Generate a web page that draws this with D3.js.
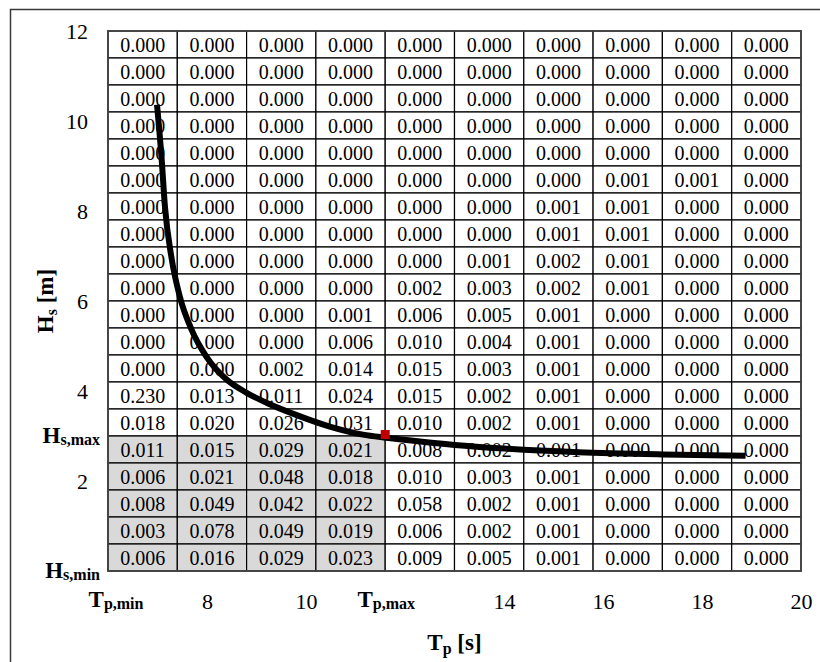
<!DOCTYPE html>
<html lang="en">

<head>
	<meta charset="UTF-8">
	<title>d3</title>
	<style type="text/css">
		body { margin: 0; background: #fff; }
		text { font-family: "Liberation Serif", "Times New Roman", serif; fill: #000; }
	</style>
</head>

<body>
	<div id="chart"></div>

	<script src="https://d3js.org/d3.v7.min.js"></script>
	<script>
		// probability table, rows listed from top (Hs 11.4-12 m) to bottom (Hs 0-0.6 m)
		var cellValues = [
			[0.000, 0.000, 0.000, 0.000, 0.000, 0.000, 0.000, 0.000, 0.000, 0.000],
			[0.000, 0.000, 0.000, 0.000, 0.000, 0.000, 0.000, 0.000, 0.000, 0.000],
			[0.000, 0.000, 0.000, 0.000, 0.000, 0.000, 0.000, 0.000, 0.000, 0.000],
			[0.000, 0.000, 0.000, 0.000, 0.000, 0.000, 0.000, 0.000, 0.000, 0.000],
			[0.000, 0.000, 0.000, 0.000, 0.000, 0.000, 0.000, 0.000, 0.000, 0.000],
			[0.000, 0.000, 0.000, 0.000, 0.000, 0.000, 0.000, 0.001, 0.001, 0.000],
			[0.000, 0.000, 0.000, 0.000, 0.000, 0.000, 0.001, 0.001, 0.000, 0.000],
			[0.000, 0.000, 0.000, 0.000, 0.000, 0.000, 0.001, 0.001, 0.000, 0.000],
			[0.000, 0.000, 0.000, 0.000, 0.000, 0.001, 0.002, 0.001, 0.000, 0.000],
			[0.000, 0.000, 0.000, 0.000, 0.002, 0.003, 0.002, 0.001, 0.000, 0.000],
			[0.000, 0.000, 0.000, 0.001, 0.006, 0.005, 0.001, 0.000, 0.000, 0.000],
			[0.000, 0.000, 0.000, 0.006, 0.010, 0.004, 0.001, 0.000, 0.000, 0.000],
			[0.000, 0.000, 0.002, 0.014, 0.015, 0.003, 0.001, 0.000, 0.000, 0.000],
			[0.230, 0.013, 0.011, 0.024, 0.015, 0.002, 0.001, 0.000, 0.000, 0.000],
			[0.018, 0.020, 0.026, 0.031, 0.010, 0.002, 0.001, 0.000, 0.000, 0.000],
			[0.011, 0.015, 0.029, 0.021, 0.008, 0.002, 0.001, 0.000, 0.000, 0.000],
			[0.006, 0.021, 0.048, 0.018, 0.010, 0.003, 0.001, 0.000, 0.000, 0.000],
			[0.008, 0.049, 0.042, 0.022, 0.058, 0.002, 0.001, 0.000, 0.000, 0.000],
			[0.003, 0.078, 0.049, 0.019, 0.006, 0.002, 0.001, 0.000, 0.000, 0.000],
			[0.006, 0.016, 0.029, 0.023, 0.009, 0.005, 0.001, 0.000, 0.000, 0.000]
		];

		// bin layout of the table (Tp in s, Hs in m)
		var tpStart = 6, tpStep = 1.4;
		var hsStart = 0, hsStep = 0.6;

		var tpMin = 6, tpMax = 11.6;
		var hsMin = 0, hsMax = 3.0;

		// contour line
		var curveTp = [6.99, 7.08, 7.15, 7.28, 7.45, 7.69, 7.99, 8.39, 8.8, 9.2, 9.8, 10.48, 11.15, 11.62, 12.35, 13.0, 14.0, 15.5, 17.2, 18.88];
		var curveHs = [10.36, 9.21, 8.1, 6.98, 6.1, 5.36, 4.76, 4.26, 3.96, 3.74, 3.47, 3.21, 3.03, 2.96, 2.87, 2.8, 2.72, 2.64, 2.59, 2.56];

		var xTicks = [8, 10, 14, 16, 18, 20];
		var yTicks = [2, 4, 6, 8, 10, 12];

		var width = 820, height = 662;
		var margin = { top: 31, right: 19, bottom: 91, left: 108 };

		var xScale = d3.scaleLinear()
			.domain([6, 20])
			.range([margin.left, width - margin.right]);

		var yScale = d3.scaleLinear()
			.domain([0, 12])
			.range([height - margin.bottom, margin.top]);

		var svg = d3.select('#chart')
			.append('svg')
			.attr('width', width)
			.attr('height', height);

		// chart frame (runs off the picture on the right and bottom)
		svg.append('rect')
			.attr('x', 10.5)
			.attr('y', 9.5)
			.attr('width', 900)
			.attr('height', 900)
			.attr('fill', 'none')
			.attr('stroke', '#3a3a3a')
			.attr('stroke-width', 1.5);

		// cells
		var cells = [];
		cellValues.forEach((row, r) => {
			var i = cellValues.length - 1 - r;
			row.forEach((v, j) => {
				cells.push({
					t0: tpStart + j * tpStep, t1: tpStart + (j + 1) * tpStep,
					h0: hsStart + i * hsStep, h1: hsStart + (i + 1) * hsStep,
					value: v
				});
			});
		});

		var fmt = d3.format('.3f');
		var inBox = (d) => d.t1 <= tpMax + 1e-9 && d.h1 <= hsMax + 1e-9;

		var cellG = svg.append('g').attr('class', 'cells');

		cellG.selectAll('rect')
			.data(cells)
			.join('rect')
			.attr('x', (d) => xScale(d.t0))
			.attr('y', (d) => yScale(d.h1))
			.attr('width', (d) => xScale(d.t1) - xScale(d.t0))
			.attr('height', (d) => yScale(d.h0) - yScale(d.h1))
			.attr('fill', (d) => inBox(d) ? '#d9d9d9' : '#fff')
			.attr('stroke', '#000')
			.attr('stroke-width', 1.2);

		cellG.selectAll('text')
			.data(cells)
			.join('text')
			.attr('x', (d) => (xScale(d.t0) + xScale(d.t1)) / 2)
			.attr('y', (d) => (yScale(d.h0) + yScale(d.h1)) / 2)
			.attr('dy', '0.36em')
			.attr('text-anchor', 'middle')
			.style('font-size', '20px')
			.text((d) => fmt(d.value));

		// outer border of the table
		svg.append('rect')
			.attr('x', xScale(6))
			.attr('y', yScale(12))
			.attr('width', xScale(20) - xScale(6))
			.attr('height', yScale(0) - yScale(12))
			.attr('fill', 'none')
			.attr('stroke', '#444')
			.attr('stroke-width', 1.8);

		// contour
		var lineGen = d3.line()
			.x((d) => xScale(d[0]))
			.y((d) => yScale(d[1]))
			.curve(d3.curveMonotoneX);

		svg.append('path')
			.datum(d3.zip(curveTp, curveHs))
			.attr('d', lineGen)
			.attr('fill', 'none')
			.attr('stroke', '#000')
			.attr('stroke-width', 6);

		// design point
		svg.append('rect')
			.attr('x', xScale(tpMax) - 4.5)
			.attr('y', yScale(hsMax) - 6)
			.attr('width', 9)
			.attr('height', 9)
			.attr('fill', '#c00000');

		// axes
		var xAxis = svg.append('g')
			.attr('class', 'x axis')
			.attr('transform', `translate(0, ${yScale(0)})`)
			.call(d3.axisBottom(xScale).tickValues(xTicks).tickSize(0).tickPadding(22));

		var yAxis = svg.append('g')
			.attr('class', 'y axis')
			.attr('transform', `translate(${xScale(6)}, 0)`)
			.call(d3.axisLeft(yScale).tickValues(yTicks).tickSize(0).tickPadding(20));

		svg.selectAll('.axis .domain').remove();
		svg.selectAll('.axis text')
			.attr('font-family', null)
			.attr('fill', null)
			.style('font-size', '22px');

		// bound labels with subscripts
		function subLabel(g, main, sub) {
			g.append('tspan').style('font-size', '23px').text(main);
			g.append('tspan').style('font-size', '16px').attr('dy', 2).text(sub);
		}

		[{ v: tpMin, sub: 'p,min', dx: 8 }, { v: tpMax, sub: 'p,max', dx: 1 }].forEach((d) => {
			var t = svg.append('text')
				.attr('x', xScale(d.v) + d.dx)
				.attr('y', yScale(0) + 36)
				.attr('text-anchor', 'middle')
				.style('font-weight', 'bold');
			subLabel(t, 'T', d.sub);
		});

		[{ v: hsMax, sub: 's,max' }, { v: hsMin, sub: 's,min' }].forEach((d) => {
			var t = svg.append('text')
				.attr('x', xScale(6) - 8)
				.attr('y', yScale(d.v) + 7)
				.attr('text-anchor', 'end')
				.style('font-weight', 'bold');
			subLabel(t, 'H', d.sub);
		});

		// axis titles
		var xTitle = svg.append('text')
			.attr('x', (xScale(6) + xScale(20)) / 2)
			.attr('y', 650)
			.attr('text-anchor', 'middle')
			.style('font-weight', 'bold')
			.style('font-size', '23px');
		xTitle.append('tspan').text('T');
		xTitle.append('tspan').attr('dy', 4).style('font-size', '16px').text('p');
		xTitle.append('tspan').attr('dy', -4).text(' [s]');

		var yTitle = svg.append('text')
			.attr('transform', `translate(53, ${(yScale(0) + yScale(12)) / 2}) rotate(-90)`)
			.attr('text-anchor', 'middle')
			.style('font-weight', 'bold')
			.style('font-size', '23px');
		yTitle.append('tspan').text('H');
		yTitle.append('tspan').attr('dy', 4).style('font-size', '16px').text('s');
		yTitle.append('tspan').attr('dy', -4).text(' [m]');

	</script>
</body>

</html>
